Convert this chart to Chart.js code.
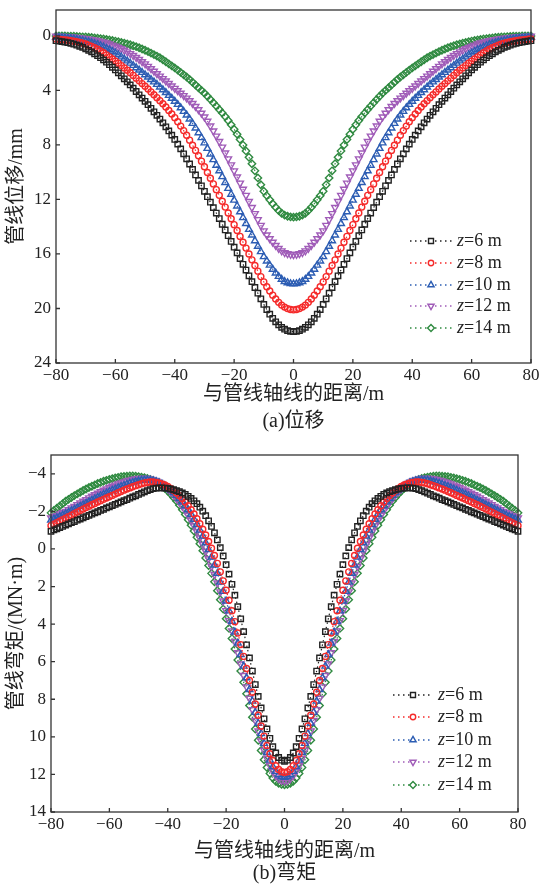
<!DOCTYPE html>
<html>
<head>
<meta charset="utf-8">
<title>管线位移与弯矩</title>
<script src="https://cdn.jsdelivr.net/npm/chart.js@4.4.1/dist/chart.umd.min.js"></script>
<style>
  html, body { margin: 0; padding: 0; background: #fff; }
  body { width: 541px; height: 885px; position: relative; overflow: hidden; }
  .panel { position: absolute; left: 0; }
</style>
</head>
<body>
<div class="panel" style="top:0"><canvas id="dispChart" width="541" height="440"></canvas></div>
<div class="panel" style="top:440px"><canvas id="momentChart" width="541" height="445"></canvas></div>
<script>
// distance from pipe axis (m)
const distance = [
  -80,-79,-78,-77,-76,-75,-74,-73,-72,-71,-70,-69,-68,-67,-66,-65,-64,-63,-62,-61,
  -60,-59,-58,-57,-56,-55,-54,-53,-52,-51,-50,-49,-48,-47,-46,-45,-44,-43,-42,-41,
  -40,-39,-38,-37,-36,-35,-34,-33,-32,-31,-30,-29,-28,-27,-26,-25,-24,-23,-22,-21,
  -20,-19,-18,-17,-16,-15,-14,-13,-12,-11,-10,-9,-8,-7,-6,-5,-4,-3,-2,-1,
  0,1,2,3,4,5,6,7,8,9,10,11,12,13,14,15,16,17,18,19,
  20,21,22,23,24,25,26,27,28,29,30,31,32,33,34,35,36,37,38,39,
  40,41,42,43,44,45,46,47,48,49,50,51,52,53,54,55,56,57,58,59,
  60,61,62,63,64,65,66,67,68,69,70,71,72,73,74,75,76,77,78,79,80
];

const seriesNames = ['6 m', '8 m', '10 m', '12 m', '14 m'];
const xTicks = [-80, -60, -40, -20, 0, 20, 40, 60, 80];
const dispTicks = [0, 4, 8, 12, 16, 20, 24];
const momentTicks = [-4, -2, 0, 2, 4, 6, 8, 10, 12, 14];

// (a) pipe displacement, mm
const dispZ6 = [
  0.35, 0.38, 0.42, 0.46, 0.5, 0.55, 0.61, 0.68, 0.76, 0.85,
  0.95, 1.06, 1.18, 1.31, 1.45, 1.6, 1.76, 1.93, 2.11, 2.3,
  2.5, 2.71, 2.93, 3.15, 3.37, 3.6, 3.84, 4.08, 4.32, 4.56,
  4.8, 5.05, 5.31, 5.57, 5.83, 6.1, 6.38, 6.67, 6.97, 7.28,
  7.6, 7.94, 8.29, 8.65, 9.02, 9.4, 9.8, 10.2, 10.6, 11.0,
  11.4, 11.8, 12.2, 12.6, 13.0, 13.4, 13.82, 14.24, 14.66, 15.08,
  15.5, 15.92, 16.34, 16.76, 17.18, 17.6, 18.03, 18.46, 18.88, 19.29,
  19.7, 20.08, 20.42, 20.72, 20.98, 21.2, 21.38, 21.52, 21.62, 21.68,
  21.7, 21.68, 21.62, 21.52, 21.38, 21.2, 20.98, 20.72, 20.42, 20.08, 19.7,
  19.29, 18.88, 18.46, 18.03, 17.6, 17.18, 16.76, 16.34, 15.92, 15.5,
  15.08, 14.66, 14.24, 13.82, 13.4, 13.0, 12.6, 12.2, 11.8, 11.4,
  11.0, 10.6, 10.2, 9.8, 9.4, 9.02, 8.65, 8.29, 7.94, 7.6,
  7.28, 6.97, 6.67, 6.38, 6.1, 5.83, 5.57, 5.31, 5.05, 4.8,
  4.56, 4.32, 4.08, 3.84, 3.6, 3.37, 3.15, 2.93, 2.71, 2.5,
  2.3, 2.11, 1.93, 1.76, 1.6, 1.45, 1.31, 1.18, 1.06, 0.95,
  0.85, 0.76, 0.68, 0.61, 0.55, 0.5, 0.46, 0.42, 0.38, 0.35
];
const dispZ8 = [
  0.22, 0.24, 0.27, 0.29, 0.32, 0.35, 0.39, 0.43, 0.48, 0.54,
  0.6, 0.68, 0.77, 0.87, 0.98, 1.1, 1.24, 1.39, 1.54, 1.69,
  1.85, 2.01, 2.18, 2.35, 2.52, 2.7, 2.9, 3.1, 3.3, 3.5,
  3.7, 3.9, 4.11, 4.32, 4.53, 4.75, 4.98, 5.22, 5.47, 5.73,
  6.0, 6.3, 6.62, 6.95, 7.29, 7.65, 8.02, 8.4, 8.79, 9.19,
  9.6, 10.02, 10.44, 10.86, 11.28, 11.7, 12.13, 12.56, 12.99, 13.42,
  13.85, 14.28, 14.71, 15.14, 15.57, 16.0, 16.43, 16.85, 17.26, 17.66,
  18.05, 18.4, 18.72, 19.02, 19.3, 19.55, 19.75, 19.9, 20.01, 20.08,
  20.1, 20.08, 20.01, 19.9, 19.75, 19.55, 19.3, 19.02, 18.72, 18.4, 18.05,
  17.66, 17.26, 16.85, 16.43, 16.0, 15.57, 15.14, 14.71, 14.28, 13.85,
  13.42, 12.99, 12.56, 12.13, 11.7, 11.28, 10.86, 10.44, 10.02, 9.6,
  9.19, 8.79, 8.4, 8.02, 7.65, 7.29, 6.95, 6.62, 6.3, 6.0,
  5.73, 5.47, 5.22, 4.98, 4.75, 4.53, 4.32, 4.11, 3.9, 3.7,
  3.5, 3.3, 3.1, 2.9, 2.7, 2.52, 2.35, 2.18, 2.01, 1.85,
  1.69, 1.54, 1.39, 1.24, 1.1, 0.98, 0.87, 0.77, 0.68, 0.6,
  0.54, 0.48, 0.43, 0.39, 0.35, 0.32, 0.29, 0.27, 0.24, 0.22
];
const dispZ10 = [
  0.1, 0.12, 0.14, 0.16, 0.18, 0.2, 0.23, 0.26, 0.3, 0.35,
  0.4, 0.44, 0.5, 0.57, 0.64, 0.72, 0.82, 0.92, 1.02, 1.13,
  1.25, 1.39, 1.54, 1.69, 1.84, 2.0, 2.17, 2.34, 2.51, 2.68,
  2.85, 3.02, 3.2, 3.38, 3.56, 3.75, 3.95, 4.16, 4.37, 4.58,
  4.8, 5.03, 5.28, 5.54, 5.81, 6.1, 6.42, 6.76, 7.11, 7.47,
  7.85, 8.26, 8.67, 9.08, 9.49, 9.9, 10.33, 10.76, 11.19, 11.62,
  12.05, 12.48, 12.91, 13.34, 13.77, 14.2, 14.61, 15.03, 15.44, 15.83,
  16.2, 16.52, 16.82, 17.12, 17.4, 17.65, 17.86, 18.02, 18.12, 18.18,
  18.2, 18.18, 18.12, 18.02, 17.86, 17.65, 17.4, 17.12, 16.82, 16.52, 16.2,
  15.83, 15.44, 15.03, 14.61, 14.2, 13.77, 13.34, 12.91, 12.48, 12.05,
  11.62, 11.19, 10.76, 10.33, 9.9, 9.49, 9.08, 8.67, 8.26, 7.85,
  7.47, 7.11, 6.76, 6.42, 6.1, 5.81, 5.54, 5.28, 5.03, 4.8,
  4.58, 4.37, 4.16, 3.95, 3.75, 3.56, 3.38, 3.2, 3.02, 2.85,
  2.68, 2.51, 2.34, 2.17, 2.0, 1.84, 1.69, 1.54, 1.39, 1.25,
  1.13, 1.02, 0.92, 0.82, 0.72, 0.64, 0.57, 0.5, 0.44, 0.4,
  0.35, 0.3, 0.26, 0.23, 0.2, 0.18, 0.16, 0.14, 0.12, 0.1
];
const dispZ12 = [
  0.02, 0.03, 0.04, 0.05, 0.07, 0.08, 0.1, 0.12, 0.15, 0.17,
  0.2, 0.23, 0.27, 0.31, 0.35, 0.4, 0.46, 0.52, 0.59, 0.67,
  0.75, 0.84, 0.94, 1.05, 1.17, 1.3, 1.44, 1.58, 1.73, 1.89,
  2.05, 2.23, 2.41, 2.59, 2.77, 2.95, 3.13, 3.31, 3.49, 3.67,
  3.85, 4.02, 4.2, 4.38, 4.56, 4.75, 4.96, 5.18, 5.42, 5.67,
  5.95, 6.26, 6.61, 6.97, 7.35, 7.75, 8.16, 8.59, 9.02, 9.46,
  9.9, 10.35, 10.8, 11.25, 11.7, 12.15, 12.59, 13.04, 13.48, 13.9,
  14.3, 14.6, 14.88, 15.14, 15.38, 15.6, 15.77, 15.9, 15.98, 16.03,
  16.05, 16.03, 15.98, 15.9, 15.77, 15.6, 15.38, 15.14, 14.88, 14.6, 14.3,
  13.9, 13.48, 13.04, 12.59, 12.15, 11.7, 11.25, 10.8, 10.35, 9.9,
  9.46, 9.02, 8.59, 8.16, 7.75, 7.35, 6.97, 6.61, 6.26, 5.95,
  5.67, 5.42, 5.18, 4.96, 4.75, 4.56, 4.38, 4.2, 4.02, 3.85,
  3.67, 3.49, 3.31, 3.13, 2.95, 2.77, 2.59, 2.41, 2.23, 2.05,
  1.89, 1.73, 1.58, 1.44, 1.3, 1.17, 1.05, 0.94, 0.84, 0.75,
  0.67, 0.59, 0.52, 0.46, 0.4, 0.35, 0.31, 0.27, 0.23, 0.2,
  0.17, 0.15, 0.12, 0.1, 0.08, 0.07, 0.05, 0.04, 0.03, 0.02
];
const dispZ14 = [
  0, 0, 0.01, 0.01, 0.02, 0.02, 0.03, 0.04, 0.05, 0.07,
  0.08, 0.1, 0.12, 0.15, 0.17, 0.2, 0.23, 0.26, 0.3, 0.34,
  0.38, 0.43, 0.48, 0.53, 0.59, 0.65, 0.72, 0.79, 0.87, 0.96,
  1.05, 1.15, 1.26, 1.37, 1.48, 1.6, 1.75, 1.9, 2.05, 2.2,
  2.35, 2.51, 2.68, 2.85, 3.02, 3.2, 3.4, 3.6, 3.8, 4.0,
  4.2, 4.43, 4.66, 4.9, 5.15, 5.4, 5.65, 5.92, 6.21, 6.52,
  6.85, 7.21, 7.6, 8.01, 8.44, 8.9, 9.38, 9.9, 10.42, 10.92,
  11.4, 11.72, 12.02, 12.31, 12.58, 12.82, 13.01, 13.15, 13.23, 13.28,
  13.3, 13.28, 13.23, 13.15, 13.01, 12.82, 12.58, 12.31, 12.02, 11.72, 11.4,
  10.92, 10.42, 9.9, 9.38, 8.9, 8.44, 8.01, 7.6, 7.21, 6.85,
  6.52, 6.21, 5.92, 5.65, 5.4, 5.15, 4.9, 4.66, 4.43, 4.2,
  4.0, 3.8, 3.6, 3.4, 3.2, 3.02, 2.85, 2.68, 2.51, 2.35,
  2.2, 2.05, 1.9, 1.75, 1.6, 1.48, 1.37, 1.26, 1.15, 1.05,
  0.96, 0.87, 0.79, 0.72, 0.65, 0.59, 0.53, 0.48, 0.43, 0.38,
  0.34, 0.3, 0.26, 0.23, 0.2, 0.17, 0.15, 0.12, 0.1, 0.08,
  0.07, 0.05, 0.04, 0.03, 0.02, 0.02, 0.01, 0.01, 0, 0
];

// (b) pipe bending moment, MN·m
const momentZ6 = [
  -0.94, -1.01, -1.07, -1.14, -1.2, -1.27, -1.33, -1.4, -1.46, -1.53,
  -1.59, -1.66, -1.72, -1.79, -1.85, -1.92, -1.98, -2.05, -2.11, -2.18,
  -2.24, -2.31, -2.37, -2.44, -2.5, -2.57, -2.63, -2.7, -2.77, -2.83,
  -2.9, -2.97, -3.04, -3.1, -3.16, -3.21, -3.24, -3.25, -3.25, -3.24,
  -3.22, -3.19, -3.15, -3.1, -3.05, -2.98, -2.9, -2.8, -2.69, -2.56,
  -2.41, -2.22, -2.01, -1.77, -1.5, -1.2, -0.86, -0.48, -0.07, 0.37,
  0.84, 1.34, 1.88, 2.46, 3.07, 3.72, 4.4, 5.1, 5.8, 6.5,
  7.22, 7.85, 8.46, 9.04, 9.58, 10.08, 10.52, 10.86, 11.1, 11.24,
  11.3, 11.24, 11.1, 10.86, 10.52, 10.08, 9.58, 9.04, 8.46, 7.85, 7.22,
  6.5, 5.8, 5.1, 4.4, 3.72, 3.07, 2.46, 1.88, 1.34, 0.84,
  0.37, -0.07, -0.48, -0.86, -1.2, -1.5, -1.77, -2.01, -2.22, -2.41,
  -2.56, -2.69, -2.8, -2.9, -2.98, -3.05, -3.1, -3.15, -3.19, -3.22,
  -3.24, -3.25, -3.25, -3.24, -3.21, -3.16, -3.1, -3.04, -2.97, -2.9,
  -2.83, -2.77, -2.7, -2.63, -2.57, -2.5, -2.44, -2.37, -2.31, -2.24,
  -2.18, -2.11, -2.05, -1.98, -1.92, -1.85, -1.79, -1.72, -1.66, -1.59,
  -1.53, -1.46, -1.4, -1.33, -1.27, -1.2, -1.14, -1.07, -1.01, -0.94
];
const momentZ8 = [
  -1.24, -1.32, -1.4, -1.48, -1.56, -1.64, -1.72, -1.8, -1.88, -1.96,
  -2.04, -2.12, -2.2, -2.27, -2.35, -2.42, -2.5, -2.57, -2.64, -2.71,
  -2.78, -2.85, -2.92, -2.99, -3.06, -3.13, -3.19, -3.25, -3.31, -3.37,
  -3.42, -3.47, -3.51, -3.54, -3.56, -3.56, -3.54, -3.51, -3.46, -3.4,
  -3.32, -3.22, -3.11, -2.98, -2.84, -2.68, -2.5, -2.3, -2.09, -1.86,
  -1.61, -1.34, -1.05, -0.74, -0.4, -0.04, 0.35, 0.77, 1.22, 1.7,
  2.2, 2.73, 3.29, 3.87, 4.47, 5.09, 5.72, 6.36, 7.0, 7.63,
  8.25, 8.85, 9.42, 9.96, 10.46, 10.9, 11.26, 11.54, 11.74, 11.86,
  11.9, 11.86, 11.74, 11.54, 11.26, 10.9, 10.46, 9.96, 9.42, 8.85, 8.25,
  7.63, 7.0, 6.36, 5.72, 5.09, 4.47, 3.87, 3.29, 2.73, 2.2,
  1.7, 1.22, 0.77, 0.35, -0.04, -0.4, -0.74, -1.05, -1.34, -1.61,
  -1.86, -2.09, -2.3, -2.5, -2.68, -2.84, -2.98, -3.11, -3.22, -3.32,
  -3.4, -3.46, -3.51, -3.54, -3.56, -3.56, -3.54, -3.51, -3.47, -3.42,
  -3.37, -3.31, -3.25, -3.19, -3.13, -3.06, -2.99, -2.92, -2.85, -2.78,
  -2.71, -2.64, -2.57, -2.5, -2.42, -2.35, -2.27, -2.2, -2.12, -2.04,
  -1.96, -1.88, -1.8, -1.72, -1.64, -1.56, -1.48, -1.4, -1.32, -1.24
];
const momentZ10 = [
  -1.53, -1.59, -1.66, -1.73, -1.8, -1.87, -1.95, -2.03, -2.11, -2.19,
  -2.27, -2.35, -2.43, -2.51, -2.59, -2.67, -2.75, -2.83, -2.91, -2.98,
  -3.05, -3.12, -3.19, -3.26, -3.32, -3.38, -3.44, -3.49, -3.54, -3.58,
  -3.62, -3.65, -3.67, -3.67, -3.66, -3.63, -3.59, -3.53, -3.46, -3.37,
  -3.26, -3.14, -3.0, -2.85, -2.68, -2.5, -2.3, -2.08, -1.84, -1.58,
  -1.3, -1.0, -0.68, -0.33, 0.04, 0.44, 0.86, 1.3, 1.77, 2.26,
  2.77, 3.3, 3.85, 4.42, 5.01, 5.62, 6.24, 6.86, 7.48, 8.1,
  8.7, 9.28, 9.83, 10.35, 10.82, 11.24, 11.58, 11.84, 12.02, 12.12,
  12.15, 12.12, 12.02, 11.84, 11.58, 11.24, 10.82, 10.35, 9.83, 9.28, 8.7,
  8.1, 7.48, 6.86, 6.24, 5.62, 5.01, 4.42, 3.85, 3.3, 2.77,
  2.26, 1.77, 1.3, 0.86, 0.44, 0.04, -0.33, -0.68, -1.0, -1.3,
  -1.58, -1.84, -2.08, -2.3, -2.5, -2.68, -2.85, -3.0, -3.14, -3.26,
  -3.37, -3.46, -3.53, -3.59, -3.63, -3.66, -3.67, -3.67, -3.65, -3.62,
  -3.58, -3.54, -3.49, -3.44, -3.38, -3.32, -3.26, -3.19, -3.12, -3.05,
  -2.98, -2.91, -2.83, -2.75, -2.67, -2.59, -2.51, -2.43, -2.35, -2.27,
  -2.19, -2.11, -2.03, -1.95, -1.87, -1.8, -1.73, -1.66, -1.59, -1.53
];
const momentZ12 = [
  -1.65, -1.72, -1.79, -1.86, -1.93, -2.0, -2.09, -2.18, -2.27, -2.36,
  -2.45, -2.54, -2.63, -2.72, -2.81, -2.89, -2.97, -3.05, -3.13, -3.2,
  -3.27, -3.34, -3.4, -3.46, -3.52, -3.57, -3.62, -3.66, -3.7, -3.73,
  -3.75, -3.76, -3.76, -3.75, -3.72, -3.68, -3.62, -3.54, -3.44, -3.32,
  -3.19, -3.04, -2.87, -2.69, -2.49, -2.27, -2.04, -1.79, -1.52, -1.23,
  -0.92, -0.59, -0.24, 0.13, 0.52, 0.93, 1.36, 1.81, 2.28, 2.77,
  3.28, 3.81, 4.36, 4.93, 5.52, 6.12, 6.73, 7.34, 7.95, 8.55,
  9.13, 9.69, 10.22, 10.71, 11.15, 11.53, 11.84, 12.07, 12.23, 12.32,
  12.35, 12.32, 12.23, 12.07, 11.84, 11.53, 11.15, 10.71, 10.22, 9.69, 9.13,
  8.55, 7.95, 7.34, 6.73, 6.12, 5.52, 4.93, 4.36, 3.81, 3.28,
  2.77, 2.28, 1.81, 1.36, 0.93, 0.52, 0.13, -0.24, -0.59, -0.92,
  -1.23, -1.52, -1.79, -2.04, -2.27, -2.49, -2.69, -2.87, -3.04, -3.19,
  -3.32, -3.44, -3.54, -3.62, -3.68, -3.72, -3.75, -3.76, -3.76, -3.75,
  -3.73, -3.7, -3.66, -3.62, -3.57, -3.52, -3.46, -3.4, -3.34, -3.27,
  -3.2, -3.13, -3.05, -2.97, -2.89, -2.81, -2.72, -2.63, -2.54, -2.45,
  -2.36, -2.27, -2.18, -2.09, -2.0, -1.93, -1.86, -1.79, -1.72, -1.65
];
const momentZ14 = [
  -1.92, -2.05, -2.17, -2.29, -2.41, -2.54, -2.64, -2.74, -2.84, -2.93,
  -3.02, -3.11, -3.19, -3.27, -3.34, -3.41, -3.48, -3.54, -3.6, -3.65,
  -3.7, -3.74, -3.78, -3.81, -3.84, -3.86, -3.87, -3.88, -3.88, -3.87,
  -3.85, -3.82, -3.79, -3.75, -3.7, -3.64, -3.57, -3.48, -3.36, -3.23,
  -3.08, -2.92, -2.74, -2.55, -2.33, -2.09, -1.83, -1.55, -1.26, -0.95,
  -0.62, -0.28, 0.09, 0.48, 0.88, 1.3, 1.75, 2.22, 2.7, 3.2,
  3.71, 4.23, 4.77, 5.33, 5.91, 6.5, 7.1, 7.71, 8.33, 8.96,
  9.58, 10.18, 10.73, 11.22, 11.63, 11.95, 12.19, 12.36, 12.47, 12.53,
  12.55, 12.53, 12.47, 12.36, 12.19, 11.95, 11.63, 11.22, 10.73, 10.18, 9.58,
  8.96, 8.33, 7.71, 7.1, 6.5, 5.91, 5.33, 4.77, 4.23, 3.71,
  3.2, 2.7, 2.22, 1.75, 1.3, 0.88, 0.48, 0.09, -0.28, -0.62,
  -0.95, -1.26, -1.55, -1.83, -2.09, -2.33, -2.55, -2.74, -2.92, -3.08,
  -3.23, -3.36, -3.48, -3.57, -3.64, -3.7, -3.75, -3.79, -3.82, -3.85,
  -3.87, -3.88, -3.88, -3.87, -3.86, -3.84, -3.81, -3.78, -3.74, -3.7,
  -3.65, -3.6, -3.54, -3.48, -3.41, -3.34, -3.27, -3.19, -3.11, -3.02,
  -2.93, -2.84, -2.74, -2.64, -2.54, -2.41, -2.29, -2.17, -2.05, -1.92
];

// look of each series (same order as seriesNames)
const seriesColors = ['#222222', '#f52a2a', '#2c5db3', '#a05cb8', '#2f8a40'];
const markerStyles = ['rect', 'circle', 'triangle', 'triangle', 'rectRot'];
const markerRotation = [0, 0, 0, 180, 0];
const markerRadius = [3.8, 3.0, 3.9, 3.9, 3.7];

const serif = '"Liberation Serif", "Noto Sans CJK SC", serif';
Chart.defaults.font.family = serif;
Chart.defaults.color = '#222';

function minusSign(v) {
  return String(v).replace('-', '\u2212');
}

function buildDatasets(seriesValues) {
  return seriesValues.map((vals, i) => ({
    label: 'z=' + seriesNames[i],
    data: distance.map((x, k) => ({ x: x, y: vals[k] })),
    borderColor: seriesColors[i],
    backgroundColor: 'rgba(0,0,0,0)',
    borderWidth: 1.2,
    borderDash: [1.5, 3],
    showLine: true,
    fill: false,
    tension: 0,
    clip: false,
    pointStyle: markerStyles[i],
    pointRotation: markerRotation[i],
    pointRadius: markerRadius[i],
    pointBorderWidth: 1.4,
    pointBackgroundColor: 'rgba(0,0,0,0)',
    pointBorderColor: seriesColors[i]
  }));
}

function drawMarker(ctx, style, r, rot, x, y) {
  ctx.beginPath();
  if (style === 'rect') {
    const s = r * Math.SQRT1_2;
    ctx.rect(x - s, y - s, 2 * s, 2 * s);
  } else if (style === 'circle') {
    ctx.arc(x, y, r, 0, Math.PI * 2);
  } else if (style === 'rectRot') {
    ctx.moveTo(x, y - r); ctx.lineTo(x + r, y); ctx.lineTo(x, y + r); ctx.lineTo(x - r, y);
    ctx.closePath();
  } else {
    const a0 = (rot - 90) * Math.PI / 180;
    for (let k = 0; k < 3; k++) {
      const a = a0 + k * 2 * Math.PI / 3;
      const px = x + Math.cos(a) * r, py = y + Math.sin(a) * r;
      if (k === 0) ctx.moveTo(px, py); else ctx.lineTo(px, py);
    }
    ctx.closePath();
  }
  ctx.fill();
  ctx.stroke();
}

// frame, inward ticks, titles and legend
const paperPlugin = {
  id: 'paper',
  afterDatasetsDraw(chart, args, opts) {
    const { ctx, chartArea: a } = chart;
    const xs = chart.scales.x, ys = chart.scales.y;
    ctx.save();
    ctx.strokeStyle = '#333';
    ctx.lineWidth = 1.3;
    ctx.strokeRect(a.left, a.top, a.right - a.left, a.bottom - a.top);
    ctx.beginPath();
    xs.ticks.forEach(t => {
      const px = xs.getPixelForValue(t.value);
      ctx.moveTo(px, a.bottom); ctx.lineTo(px, a.bottom - 4);
    });
    ys.ticks.forEach(t => {
      const py = ys.getPixelForValue(t.value);
      ctx.moveTo(a.left, py); ctx.lineTo(a.left + 4, py);
    });
    ctx.stroke();

    // titles
    ctx.fillStyle = '#222';
    ctx.textAlign = 'center';
    ctx.textBaseline = 'middle';
    ctx.font = '20px ' + serif;
    const cx = (a.left + a.right) / 2;
    ctx.fillText(opts.xTitle, cx, opts.xTitleY);
    ctx.fillText(opts.caption, cx, opts.captionY);
    ctx.save();
    ctx.translate(opts.yTitleX, (a.top + a.bottom) / 2);
    ctx.rotate(-Math.PI / 2);
    ctx.fillText(opts.yTitle, 0, 0);
    ctx.restore();

    // legend
    const lg = opts.legend;
    seriesNames.forEach((name, i) => {
      const y = lg.rows[i];
      ctx.strokeStyle = seriesColors[i];
      ctx.lineWidth = 1.3;
      ctx.setLineDash([1.5, 3.5]);
      ctx.beginPath();
      ctx.moveTo(lg.x0, y); ctx.lineTo(lg.x1, y);
      ctx.stroke();
      ctx.setLineDash([]);
      ctx.fillStyle = '#fff';
      ctx.lineWidth = 1.4;
      drawMarker(ctx, markerStyles[i], markerRadius[i] - 0.3, markerRotation[i], lg.mx, y);
      ctx.fillStyle = '#222';
      ctx.textAlign = 'left';
      ctx.font = 'italic 18px ' + serif;
      ctx.fillText('z', lg.tx, y);
      const w = ctx.measureText('z').width;
      ctx.font = '18px ' + serif;
      ctx.fillText('=' + name, lg.tx + w, y);
    });
    ctx.restore();
  }
};

function makeChart(canvasId, seriesValues, yMin, yMax, yTickList, geom, texts) {
  const tickFont = { family: serif, size: 17 };
  return new Chart(document.getElementById(canvasId), {
    type: 'line',
    data: { datasets: buildDatasets(seriesValues) },
    plugins: [paperPlugin],
    options: {
      responsive: false,
      animation: false,
      events: [],
      layout: { padding: { left: 0, right: geom.padRight, top: geom.padTop, bottom: 0 } },
      scales: {
        x: {
          type: 'linear', min: -80, max: 80,
          afterBuildTicks: s => { s.ticks = xTicks.map(v => ({ value: v })); },
          afterFit: s => { s.height = geom.xHeight; s.paddingLeft = 0; s.paddingRight = 0; },
          grid: { display: false, drawTicks: false },
          border: { display: false },
          ticks: { font: tickFont, color: '#222', padding: 2, maxRotation: 0, callback: minusSign }
        },
        y: {
          type: 'linear', reverse: true, min: yMin, max: yMax,
          afterBuildTicks: s => { s.ticks = yTickList.map(v => ({ value: v })); },
          afterFit: s => { s.width = geom.yWidth; s.paddingTop = 0; s.paddingBottom = 0; },
          grid: { display: false, drawTicks: false },
          border: { display: false },
          ticks: { font: tickFont, color: '#222', padding: 5, callback: minusSign }
        }
      },
      plugins: {
        legend: { display: false },
        tooltip: { enabled: false },
        paper: texts
      }
    }
  });
}

makeChart('dispChart', [dispZ6, dispZ8, dispZ10, dispZ12, dispZ14], -1.9, 24, dispTicks,
  { padRight: 10, padTop: 10, xHeight: 77, yWidth: 56 },
  {
    yTitle: '管线位移/mm', yTitleX: 17,
    xTitle: '与管线轴线的距离/m', xTitleY: 395,
    caption: '(a)位移', captionY: 422,
    legend: { x0: 410, x1: 452, mx: 431, tx: 457, rows: [241, 263, 285, 306, 328] }
  });

makeChart('momentChart', [momentZ6, momentZ8, momentZ10, momentZ12, momentZ14], -5, 14, momentTicks,
  { padRight: 23, padTop: 15, xHeight: 73, yWidth: 51 },
  {
    yTitle: '管线弯矩/(MN·m)', yTitleX: 17,
    xTitle: '与管线轴线的距离/m', xTitleY: 412,
    caption: '(b)弯矩', captionY: 434,
    legend: { x0: 393, x1: 433, mx: 413, tx: 438, rows: [255, 277, 300, 322, 345] }
  });
</script>
</body>
</html>
